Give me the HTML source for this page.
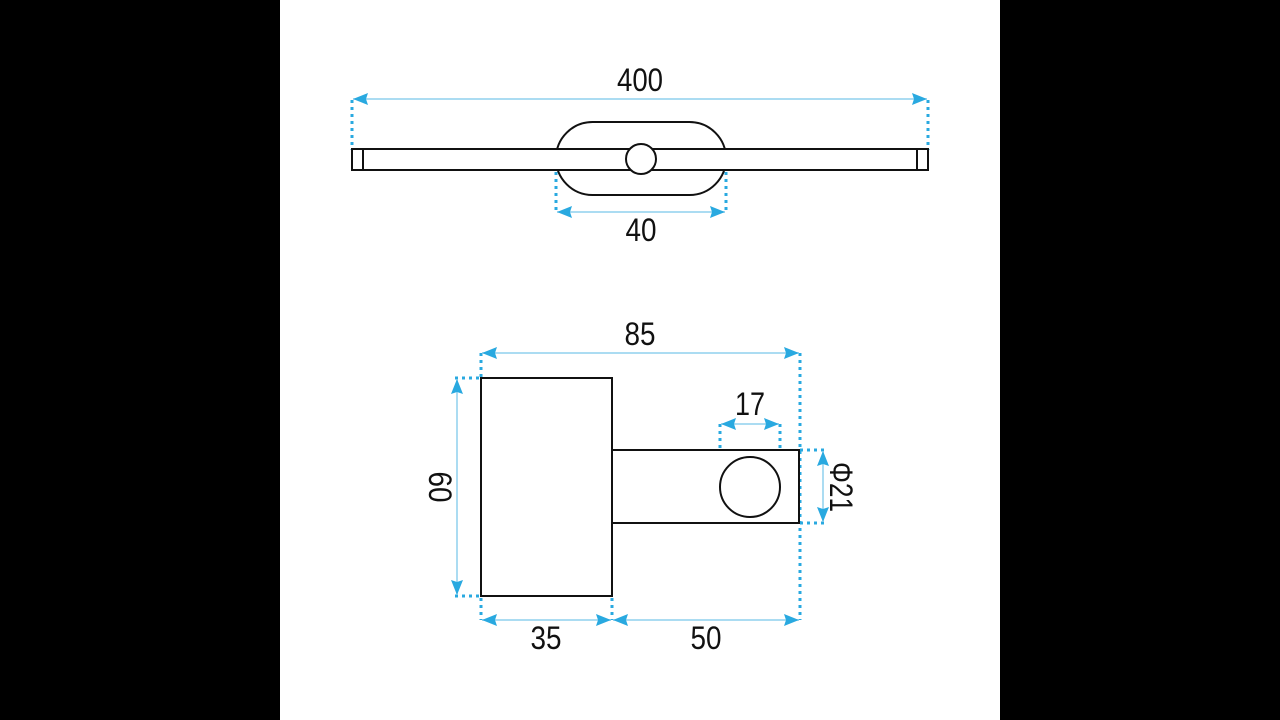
<!DOCTYPE html>
<html><head><meta charset="utf-8"><style>
html,body{margin:0;padding:0;background:#000;width:1280px;height:720px;overflow:hidden}
svg{display:block}
text{font-family:"Liberation Sans",sans-serif;font-size:32px;fill:#111}
</style></head><body>
<svg width="1280" height="720" viewBox="0 0 1280 720">
<defs>
<marker id="a" viewBox="0 0 15 12" refX="15" refY="6" markerWidth="15" markerHeight="12" markerUnits="userSpaceOnUse" orient="auto-start-reverse">
<path d="M0,0 L15,6 L0,12 L2,6 Z" fill="#29a9e0"/></marker>
</defs>
<rect x="280" y="0" width="720" height="720" fill="#fff"/>
<g fill="none" stroke="#29a9e0" stroke-width="3" stroke-dasharray="3,4">
<line x1="352" y1="100" x2="352" y2="150"/>
<line x1="928" y1="100" x2="928" y2="150"/>
<line x1="556" y1="172" x2="556" y2="212"/>
<line x1="726" y1="172" x2="726" y2="212"/>
<line x1="481" y1="353" x2="481" y2="378"/>
<line x1="800" y1="353" x2="800" y2="620"/>
<line x1="455" y1="378" x2="481" y2="378"/>
<line x1="455" y1="596" x2="481" y2="596"/>
<line x1="481" y1="598" x2="481" y2="620"/>
<line x1="612" y1="598" x2="612" y2="620"/>
<line x1="720" y1="424" x2="720" y2="487"/>
<line x1="780" y1="424" x2="780" y2="487"/>
<line x1="800" y1="450" x2="825" y2="450"/>
<line x1="800" y1="523" x2="825" y2="523"/>
</g>
<g stroke="#8fd0ee" stroke-width="1.5" marker-start="url(#a)" marker-end="url(#a)">
<line x1="353" y1="99" x2="927" y2="99"/>
<line x1="557" y1="212" x2="725" y2="212"/>
<line x1="482" y1="353" x2="799" y2="353"/>
<line x1="721" y1="424" x2="779" y2="424"/>
<line x1="457" y1="379" x2="457" y2="595"/>
<line x1="823" y1="451" x2="823" y2="522"/>
<line x1="482" y1="620" x2="611" y2="620"/>
<line x1="613" y1="620" x2="799" y2="620"/>
</g>
<g fill="#fff" stroke="#111" stroke-width="2">
<rect x="556" y="122" width="170" height="73" rx="36.5"/>
<rect x="352" y="149" width="576" height="21"/>
<rect x="352" y="149" width="11" height="21"/>
<rect x="917" y="149" width="11" height="21"/>
<circle cx="641" cy="159" r="15"/>
<rect x="481" y="378" width="131" height="218"/>
<rect x="612" y="450" width="187" height="73"/>
<circle cx="750" cy="487" r="30"/>
</g>
<g text-anchor="middle">
<text x="640" y="91" textLength="46" lengthAdjust="spacingAndGlyphs">400</text>
<text x="641" y="241" textLength="31" lengthAdjust="spacingAndGlyphs">40</text>
<text x="640" y="345" textLength="31" lengthAdjust="spacingAndGlyphs">85</text>
<text x="750" y="415" textLength="30" lengthAdjust="spacingAndGlyphs">17</text>
<text x="546" y="649" textLength="31" lengthAdjust="spacingAndGlyphs">35</text>
<text x="706" y="649" textLength="31" lengthAdjust="spacingAndGlyphs">50</text>
<text transform="translate(429,487) rotate(90)" textLength="31" lengthAdjust="spacingAndGlyphs">60</text>
<text transform="translate(830,487) rotate(90)" textLength="50" lengthAdjust="spacingAndGlyphs">Φ21</text>
</g>
</svg>
</body></html>
